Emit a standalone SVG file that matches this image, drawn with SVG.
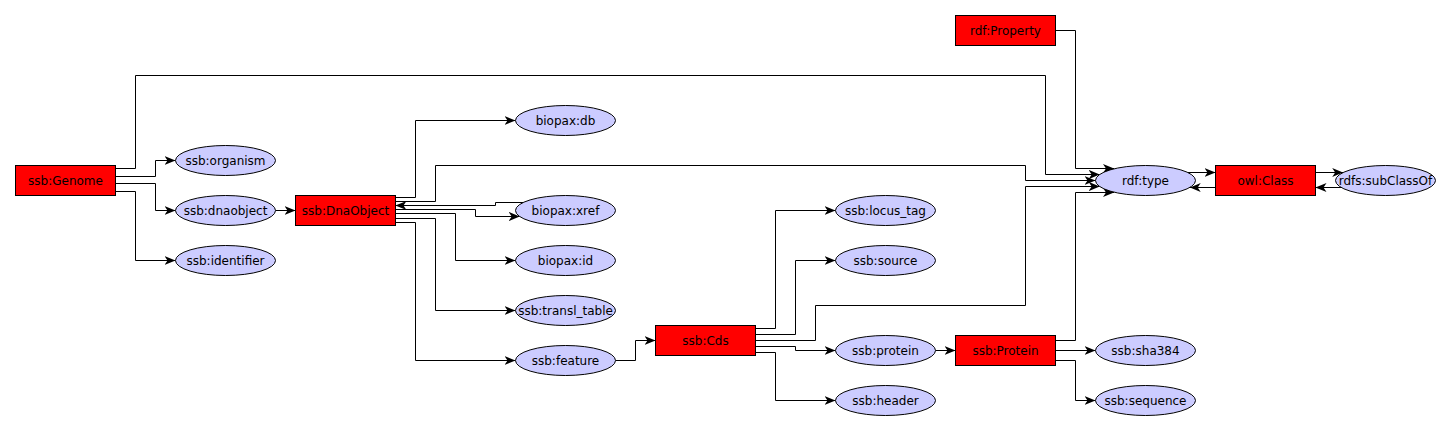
<svg xmlns="http://www.w3.org/2000/svg" width="1450" height="430" viewBox="0 0 1450 430">
<style>
.cls rect{fill:#ff0000;stroke:#000;stroke-width:1}
.prop ellipse{fill:#ccccff;stroke:#000;stroke-width:1}
text{font-family:"DejaVu Sans","Liberation Sans",sans-serif;font-size:12px;fill:#000;text-anchor:middle;dominant-baseline:central}
#edges path{fill:none;stroke:#000;stroke-width:1;marker-end:url(#arr)}
</style>
<defs>
<marker id="arr" markerUnits="userSpaceOnUse" viewBox="0 0 11 9" refX="11" refY="4.5" markerWidth="11" markerHeight="9" orient="auto">
<path d="M0,0 L11,4.5 L0,9 L3,4.5 z" fill="#000"/>
</marker>
</defs>
<rect width="1450" height="430" fill="#fff"/>
<g id="edges">
<path d="M115.5,168.5 H135.5 V75.5 H1045.5 V174.5 H1099.7"/>
<path d="M115.5,176.5 H155.5 V160.5 H175.5"/>
<path d="M115.5,183.5 H155.5 V210.5 H175.5"/>
<path d="M115.5,191.5 H135.5 V260.5 H175.5"/>
<path d="M275.5,210.5 H295.5"/>
<path d="M395.5,197.5 H415.5 V120.5 H515.5"/>
<path d="M395.5,201.5 H435.5 V165.5 H1025.5 V180.5 H1095.5"/>
<path d="M523.2,202.5 H495.5 V205.5 H395.5"/>
<path d="M395.5,209.5 H475.5 V216.5 H519.7"/>
<path d="M395.5,213.5 H455.5 V260.5 H515.5"/>
<path d="M395.5,218.5 H435.5 V310.5 H515.5"/>
<path d="M395.5,222.5 H415.5 V360.5 H515.5"/>
<path d="M615.5,360.5 H635.5 V340.5 H655.5"/>
<path d="M755.5,328.5 H775.5 V210.5 H835.5"/>
<path d="M755.5,334.5 H795.5 V260.5 H835.5"/>
<path d="M755.5,340.5 H815.5 V305.5 H1025.5 V186.5 H1099.7"/>
<path d="M755.5,346.5 H795.5 V350.5 H835.5"/>
<path d="M755.5,352.5 H775.5 V400.5 H835.5"/>
<path d="M935.5,350.5 H955.5"/>
<path d="M1055.5,340.5 H1075.5 V192.5 H1114"/>
<path d="M1055.5,350.5 H1095.5"/>
<path d="M1055.5,360.5 H1075.5 V400.5 H1095.5"/>
<path d="M1055.5,30.5 H1075.5 V168.5 H1114"/>
<path d="M1187.8,172.5 H1215.5"/>
<path d="M1215.5,187.5 H1189.7"/>
<path d="M1315.5,172.5 H1343.2"/>
<path d="M1341.3,187.5 H1315.5"/>
</g>
<g id="n-genome" class="cls"><rect x="15.5" y="165.5" width="100" height="30"/><text x="65.5" y="180.5">ssb:Genome</text></g>
<g id="n-organism" class="prop"><ellipse cx="225.5" cy="160.5" rx="50" ry="15"/><text x="225.5" y="160.5">ssb:organism</text></g>
<g id="n-dnaobject-prop" class="prop"><ellipse cx="225.5" cy="210.5" rx="50" ry="15"/><text x="225.5" y="210.5">ssb:dnaobject</text></g>
<g id="n-identifier" class="prop"><ellipse cx="225.5" cy="260.5" rx="50" ry="15"/><text x="225.5" y="260.5">ssb:identifier</text></g>
<g id="n-DnaObject" class="cls"><rect x="295.5" y="195.5" width="100" height="30"/><text x="345.5" y="210.5">ssb:DnaObject</text></g>
<g id="n-db" class="prop"><ellipse cx="565.5" cy="120.5" rx="50" ry="15"/><text x="565.5" y="120.5">biopax:db</text></g>
<g id="n-xref" class="prop"><ellipse cx="565.5" cy="210.5" rx="50" ry="15"/><text x="565.5" y="210.5">biopax:xref</text></g>
<g id="n-id" class="prop"><ellipse cx="565.5" cy="260.5" rx="50" ry="15"/><text x="565.5" y="260.5">biopax:id</text></g>
<g id="n-transl" class="prop"><ellipse cx="565.5" cy="310.5" rx="50" ry="15"/><text x="565.5" y="310.5">ssb:transl_table</text></g>
<g id="n-feature" class="prop"><ellipse cx="565.5" cy="360.5" rx="50" ry="15"/><text x="565.5" y="360.5">ssb:feature</text></g>
<g id="n-Cds" class="cls"><rect x="655.5" y="325.5" width="100" height="30"/><text x="705.5" y="340.5">ssb:Cds</text></g>
<g id="n-locus" class="prop"><ellipse cx="885.5" cy="210.5" rx="50" ry="15"/><text x="885.5" y="210.5">ssb:locus_tag</text></g>
<g id="n-source" class="prop"><ellipse cx="885.5" cy="260.5" rx="50" ry="15"/><text x="885.5" y="260.5">ssb:source</text></g>
<g id="n-protein-prop" class="prop"><ellipse cx="885.5" cy="350.5" rx="50" ry="15"/><text x="885.5" y="350.5">ssb:protein</text></g>
<g id="n-header" class="prop"><ellipse cx="885.5" cy="400.5" rx="50" ry="15"/><text x="885.5" y="400.5">ssb:header</text></g>
<g id="n-Protein" class="cls"><rect x="955.5" y="335.5" width="100" height="30"/><text x="1005.5" y="350.5">ssb:Protein</text></g>
<g id="n-sha" class="prop"><ellipse cx="1145.5" cy="350.5" rx="50" ry="15"/><text x="1145.5" y="350.5">ssb:sha384</text></g>
<g id="n-sequence" class="prop"><ellipse cx="1145.5" cy="400.5" rx="50" ry="15"/><text x="1145.5" y="400.5">ssb:sequence</text></g>
<g id="n-Property" class="cls"><rect x="955.5" y="15.5" width="100" height="30"/><text x="1005.5" y="30.5">rdf:Property</text></g>
<g id="n-type" class="prop"><ellipse cx="1145.5" cy="180.5" rx="50" ry="15"/><text x="1145.5" y="180.5">rdf:type</text></g>
<g id="n-owlClass" class="cls"><rect x="1215.5" y="165.5" width="100" height="30"/><text x="1265.5" y="180.5">owl:Class</text></g>
<g id="n-subClassOf" class="prop"><ellipse cx="1385.5" cy="180.5" rx="50" ry="15"/><text x="1385.5" y="180.5">rdfs:subClassOf</text></g>
</svg>
